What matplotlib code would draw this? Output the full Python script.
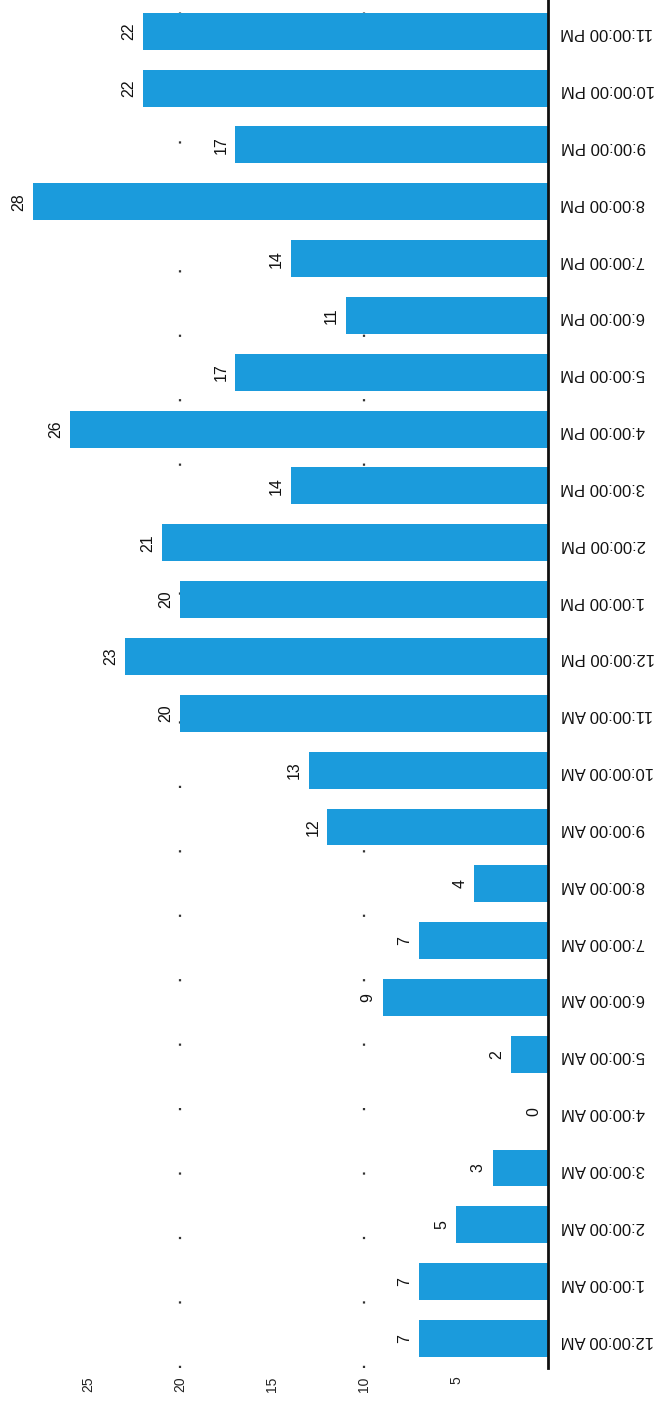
import matplotlib
matplotlib.use("Agg")
import matplotlib.pyplot as plt

# hourly counts, 12 AM through 11 PM
hours = [
    "12:00:00 AM", "1:00:00 AM", "2:00:00 AM", "3:00:00 AM", "4:00:00 AM",
    "5:00:00 AM", "6:00:00 AM", "7:00:00 AM", "8:00:00 AM", "9:00:00 AM",
    "10:00:00 AM", "11:00:00 AM", "12:00:00 PM", "1:00:00 PM", "2:00:00 PM",
    "3:00:00 PM", "4:00:00 PM", "5:00:00 PM", "6:00:00 PM", "7:00:00 PM",
    "8:00:00 PM", "9:00:00 PM", "10:00:00 PM", "11:00:00 PM",
]
counts = [7, 7, 5, 3, 0, 2, 9, 7, 4, 12, 13, 20, 23, 20, 21, 14, 26, 17, 11, 14, 28, 17, 22, 22]
value_ticks = [5, 10, 15, 20, 25]
grid_values = [10, 20]

BAR_COLOR = "#1b9bdc"
plt.rcParams["font.family"] = ["Liberation Sans", "DejaVu Sans"]

fig = plt.figure(figsize=(6.68, 14.04), dpi=100)
ax = fig.add_axes([0.0, 0.0256, 0.8204, 0.9744])

pos = list(range(len(hours)))
for g in grid_values:
    ax.axvline(g, color="#333333", linewidth=1.6, linestyle=(0, (1, 28)), zorder=0)

ax.barh(pos, counts, height=0.65, color=BAR_COLOR, zorder=2)

for i, v in zip(pos, counts):
    ax.annotate(str(v), xy=(v, i), xytext=(-5, 0), textcoords="offset points",
                rotation=90, ha="right", va="center", fontsize=11.5, color="#111111")

# value axis runs right-to-left, baseline on the right
ax.set_xlim(29.8, 0)
ax.set_ylim(-0.52, 23.55)

ax.yaxis.tick_right()
ax.set_yticks(pos)
ax.set_yticklabels(hours, rotation=180, fontsize=12, color="#111111")
ax.tick_params(axis="y", length=0, pad=9)

ax.set_xticks(value_ticks)
ax.set_xticklabels([str(t) for t in value_ticks], rotation=90, fontsize=10, color="#222222")
ax.tick_params(axis="x", length=0, pad=6)

for side in ["top", "left", "bottom"]:
    ax.spines[side].set_visible(False)
ax.spines["right"].set_linewidth(2)
ax.spines["right"].set_color("#111111")

fig.savefig("out.png", dpi=100)
